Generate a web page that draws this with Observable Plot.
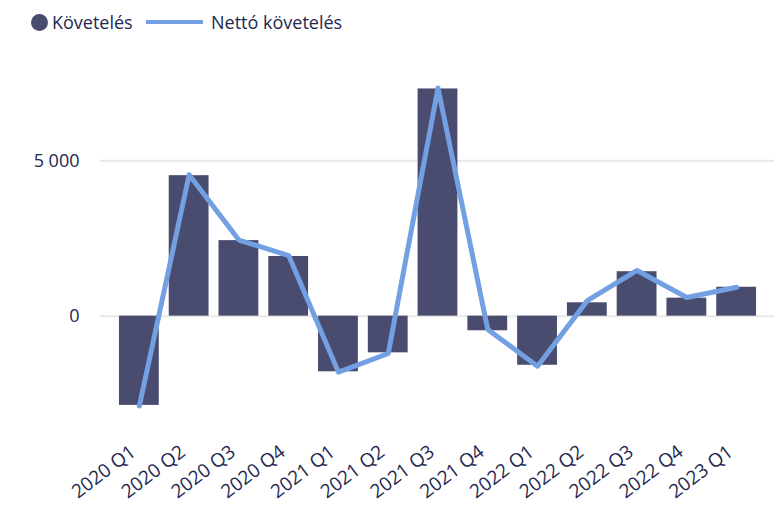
<!DOCTYPE html>
<html>
<head>
<meta charset="utf-8">
<script src="https://cdn.jsdelivr.net/npm/d3@7"></script>
<script src="https://cdn.jsdelivr.net/npm/@observablehq/plot@0.6"></script>
<style>
  body { margin: 0; background: #fff; font-family: "Open Sans", sans-serif; }
  #legend { position: relative; height: 40px; color: #23284f; font-size: 18px; }
  .item { position: absolute; top: 9px; display: flex; align-items: center; height: 26px; }
  .dot { width: 17px; height: 17px; border-radius: 50%; background: #494b6f; margin-right: 4px; }
  .swatch { width: 57px; height: 4px; background: #72a0e3; margin-right: 8px; }
</style>
</head>
<body>
<div id="legend">
  <div class="item" style="left:31px"><span class="dot"></span><span>Követelés</span></div>
  <div class="item" style="left:146px"><span class="swatch"></span><span>Nettó követelés</span></div>
</div>
<div id="chart"></div>
<script>
const quarters = ["2020 Q1","2020 Q2","2020 Q3","2020 Q4","2021 Q1","2021 Q2","2021 Q3","2021 Q4","2022 Q1","2022 Q2","2022 Q3","2022 Q4","2023 Q1"];
const koveteles = [-2870, 4520, 2430, 1920, -1790, -1180, 7310, -470, -1580, 430, 1430, 580, 930];
const netto = [-2890, 4550, 2450, 1950, -1800, -1200, 7340, -430, -1610, 500, 1470, 600, 930];
const yTicks = [0, 5000];

const data = quarters.map((q, i) => ({q, k: koveteles[i], n: netto[i]}));
const fmt = d => d3.format(",")(d).replace(/,/g, " ");

const chart = Plot.plot({
  width: 774,
  height: 465,
  marginLeft: 109,
  marginRight: 8,
  marginTop: 27,
  marginBottom: 65,
  style: { fontFamily: "Open Sans, sans-serif", fontSize: "18px", color: "#23284f", background: "transparent" },
  x: { domain: quarters, padding: 0.2, round: false },
  y: { domain: [-4000, 8000] },
  marks: [
    Plot.ruleY(yTicks, { stroke: "#e8e8e8", strokeWidth: 2, insetLeft: -9, insetRight: -8 }),
    Plot.barY(data, { x: "q", y: "k", fill: "#494b6f" }),
    Plot.line(data, { x: "q", y: "n", stroke: "#72a0e3", strokeWidth: 5, strokeLinecap: "round", strokeLinejoin: "round" }),
    Plot.axisX({ label: null, tickSize: 0, tickPadding: 9, tickRotate: -37, dx: -6, fontSize: 19, fill: "#23284f" }),
    Plot.axisY(yTicks, { tickFormat: fmt, label: null, tickSize: 0, tickPadding: 30, fontSize: 18, fill: "#23284f" })
  ]
});
document.getElementById("chart").appendChild(chart);
</script>
</body>
</html>
